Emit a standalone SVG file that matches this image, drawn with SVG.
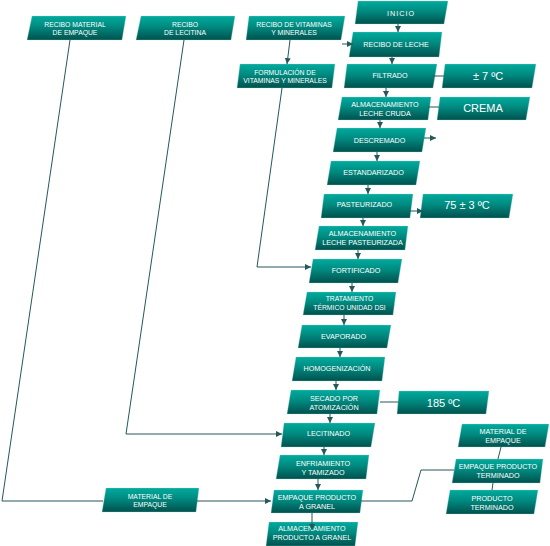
<svg xmlns="http://www.w3.org/2000/svg" width="550" height="546" viewBox="0 0 550 546">
<defs>
<linearGradient id="g" x1="0" y1="0" x2="0" y2="1">
<stop offset="0" stop-color="#00ab9e"/>
<stop offset="0.45" stop-color="#00897f"/>
<stop offset="1" stop-color="#00514d"/>
</linearGradient>
<marker id="ah" viewBox="0 0 10 10" refX="10" refY="5" markerWidth="6" markerHeight="6" markerUnits="userSpaceOnUse" orient="auto">
<path d="M0,0 L10,5 L0,10 z" fill="#24585a"/>
</marker>
<style>
.n polygon{fill:url(#g);stroke:#9ddcd4;stroke-width:0.5;stroke-opacity:0.6}
.n text{font-family:"Liberation Sans",Arial,sans-serif;font-size:7.2px;fill:#ffffff;text-anchor:middle}
.n text.s{font-size:6.8px}
.n text.big{font-size:11px}
.c line,.c polyline{stroke:#24585a;stroke-width:1;fill:none}
.c .a{marker-end:url(#ah)}
</style>
</defs>
<rect width="550" height="546" fill="#ffffff"/>

<g id="recibo-material"><g class="n"><polygon points="32,16 126,16 122,40 27,40"/><text class="s" x="75" y="27">RECIBO MATERIAL</text><text class="s" x="75" y="35.2">DE EMPAQUE</text></g></g>
<g id="recibo-lecitina"><g class="n"><polygon points="141,16 235,16 231,40 136,40"/><text class="s" x="185" y="27">RECIBO</text><text class="s" x="185" y="35.2">DE LECITINA</text></g></g>
<g id="recibo-vitaminas"><g class="n"><polygon points="249,16 345,16 341,40 246,40"/><text class="s" x="294" y="26.8">RECIBO DE VITAMINAS</text><text class="s" x="294" y="35">Y MINERALES</text></g></g>
<g id="inicio"><g class="n"><polygon points="358,1 448,1 444,24 355,24"/><text x="401" y="15.5" style="letter-spacing:1px">INICIO</text></g></g>
<g id="recibo-leche"><g class="n"><polygon points="353,32 442,32 439,57 349,57"/><text x="396" y="47">RECIBO DE LECHE</text></g></g>
<g id="formulacion"><g class="n"><polygon points="240,64 335,64 332,88 237,88"/><text class="s" x="285" y="74.8">FORMULACIÓN DE</text><text class="s" x="285" y="83">VITAMINAS Y MINERALES</text></g></g>
<g id="filtrado"><g class="n"><polygon points="347,64 437,64 433,88 344,88"/><text x="390" y="78.3">FILTRADO</text></g></g>
<g id="t7"><g class="n"><polygon points="445,64 536,64 532,88 442,88"/><text class="big" x="488" y="79.7">± 7 ºC</text></g></g>
<g id="alm-cruda"><g class="n"><polygon points="342,97 431,97 428,120 338,120"/><text x="385" y="106.6">ALMACENAMIENTO</text><text x="385" y="116">LECHE CRUDA</text></g></g>
<g id="crema"><g class="n"><polygon points="440,97 530,97 526,120 437,120"/><text class="big" x="483" y="111.7">CREMA</text></g></g>
<g id="descremado"><g class="n"><polygon points="337,128 426,128 422,152 333,152"/><text x="379.5" y="142.6">DESCREMADO</text></g></g>
<g id="estandarizado"><g class="n"><polygon points="331,161 420,161 416,185 327,185"/><text x="373.5" y="174.9">ESTANDARIZADO</text></g></g>
<g id="pasteurizado"><g class="n"><polygon points="324,194 413,194 410,218 321,218"/><text x="364.5" y="206.6">PASTEURIZADO</text></g></g>
<g id="t75"><g class="n"><polygon points="423,194 513,194 509,218 420,218"/><text class="big" x="467" y="209">75 ± 3 ºC</text></g></g>
<g id="alm-past"><g class="n"><polygon points="319,226 408,226 405,250 315,250"/><text x="362.5" y="235.6">ALMACENAMIENTO</text><text x="362.5" y="245">LECHE PASTEURIZADA</text></g></g>
<g id="fortificado"><g class="n"><polygon points="313,259 402,259 398,283 309,283"/><text x="356" y="273.3">FORTIFICADO</text></g></g>
<g id="tratamiento"><g class="n"><polygon points="307,292 396,292 393,315 303,315"/><text class="s" x="349.5" y="301.4">TRATAMIENTO</text><text class="s" x="349.5" y="309.6">TÉRMICO UNIDAD DSI</text></g></g>
<g id="evaporado"><g class="n"><polygon points="302,325 391,325 387,348 298,348"/><text x="343.5" y="339.3">EVAPORADO</text></g></g>
<g id="homogenizacion"><g class="n"><polygon points="296,357 385,357 382,381 292,381"/><text x="337" y="371.3">HOMOGENIZACIÓN</text></g></g>
<g id="secado"><g class="n"><polygon points="291,390 380,390 377,414 287,414"/><text x="334" y="400.6">SECADO POR</text><text x="334" y="409.6">ATOMIZACIÓN</text></g></g>
<g id="t185"><g class="n"><polygon points="399,391 489,391 486,414 397,414"/><text class="big" x="443.5" y="407">185 ºC</text></g></g>
<g id="lecitinado"><g class="n"><polygon points="284,423 375,423 371,447 281,447"/><text x="328.5" y="435.6">LECITINADO</text></g></g>
<g id="enfriamiento"><g class="n"><polygon points="280,455 369,455 366,479 276,479"/><text x="323" y="465.6">ENFRIAMIENTO</text><text x="323" y="475">Y TAMIZADO</text></g></g>
<g id="empaque-granel"><g class="n"><polygon points="274,490 363,490 360,513 271,513"/><text x="317" y="500">EMPAQUE PRODUCTO</text><text x="317" y="509.4">A GRANEL</text></g></g>
<g id="alm-granel"><g class="n"><polygon points="269,522 358,522 355,546 266,546"/><text x="312" y="531">ALMACENAMIENTO</text><text x="312" y="540.4">PRODUCTO A GRANEL</text></g></g>
<g id="material-empaque-izq"><g class="n"><polygon points="106,488 199,488 196,512 102,512"/><text class="s" x="150" y="499">MATERIAL DE</text><text class="s" x="150" y="507.2">EMPAQUE</text></g></g>
<g id="material-empaque-der"><g class="n"><polygon points="462,424 549,424 545,447 458,447"/><text x="503" y="434.3">MATERIAL DE</text><text x="503" y="443.4">EMPAQUE</text></g></g>
<g id="empaque-terminado"><g class="n"><polygon points="456,459 543,459 540,483 452,483"/><text x="498" y="469.3">EMPAQUE PRODUCTO</text><text x="498" y="478.4">TERMINADO</text></g></g>
<g id="producto-terminado"><g class="n"><polygon points="450,490 538,490 534,514 446,514"/><text x="492" y="501">PRODUCTO</text><text x="492" y="510">TERMINADO</text></g></g>

<g id="connectors" class="c">
<line class="a" x1="398" y1="24" x2="398" y2="32"/>
<line class="a" x1="342" y1="44" x2="353" y2="44"/>
<line class="a" x1="392" y1="57" x2="392" y2="64"/>
<line class="a" x1="386" y1="88" x2="386" y2="97"/>
<line x1="433" y1="76" x2="444" y2="76"/>
<line class="a" x1="380" y1="120" x2="380" y2="128"/>
<line x1="428" y1="107" x2="439" y2="107"/>
<line class="a" x1="424" y1="138" x2="436" y2="138"/>
<line class="a" x1="377" y1="152" x2="377" y2="161"/>
<line class="a" x1="368" y1="185" x2="368" y2="194"/>
<line class="a" x1="410" y1="211" x2="423" y2="211"/>
<line class="a" x1="363" y1="218" x2="363" y2="226"/>
<line class="a" x1="358" y1="250" x2="358" y2="259"/>
<line class="a" x1="352" y1="283" x2="352" y2="292"/>
<line class="a" x1="344" y1="315" x2="344" y2="325"/>
<line class="a" x1="340" y1="348" x2="340" y2="357"/>
<line class="a" x1="336" y1="381" x2="336" y2="390"/>
<line x1="380" y1="402" x2="398" y2="402"/>
<line class="a" x1="330" y1="414" x2="330" y2="423"/>
<line class="a" x1="324" y1="447" x2="324" y2="455"/>
<line class="a" x1="318" y1="479" x2="318" y2="490"/>
<line class="a" x1="312" y1="513" x2="312" y2="530"/>
<line class="a" x1="290" y1="40" x2="287" y2="64"/>
<polyline class="a" points="282,88 257,267 311,267"/>
<polyline class="a" points="184,40 126,434 282,434"/>
<polyline points="70,40 2,501 103,501"/>
<line class="a" x1="197" y1="501" x2="271" y2="501"/>
<polyline points="361,501 412,501 421,470 454,470"/>
<line x1="501" y1="447" x2="498" y2="459"/>
<line x1="493" y1="483" x2="492" y2="490"/>
</g>
</svg>
